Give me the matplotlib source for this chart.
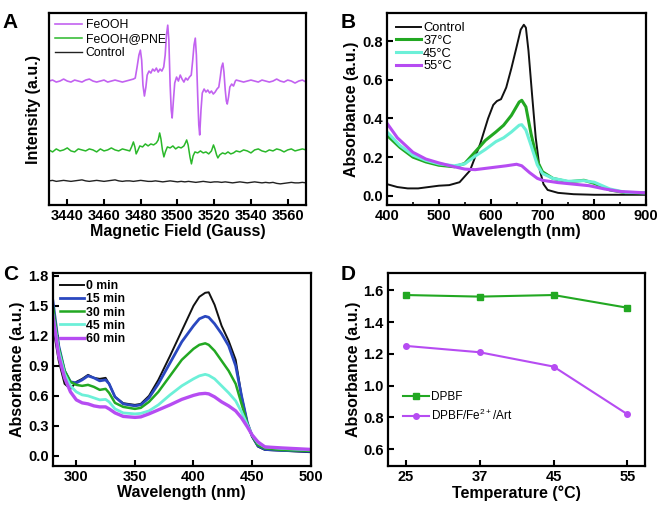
import numpy as np
import matplotlib
matplotlib.use("Agg")
import matplotlib.pyplot as plt

plt.rcParams['font.family'] = ['Liberation Sans', 'DejaVu Sans']
plt.rcParams['font.weight'] = 'bold'

# ---- panel A: EPR spectra (x in Gauss, y arbitrary) ----
feooh_x = [3430, 3432, 3434, 3436, 3438, 3440, 3442, 3444, 3446, 3448, 3450, 3452,
           3454, 3456, 3458, 3460, 3462, 3464, 3466, 3468, 3470, 3472, 3474, 3476,
           3477, 3478, 3479, 3479.8, 3480.5, 3481.2, 3482, 3482.8, 3483.5, 3484.5,
           3485.5, 3486.5, 3487.5, 3488.5, 3489.5, 3490.5, 3491.5, 3492.5, 3493.3,
           3494, 3494.7, 3495.3, 3496, 3496.6, 3497.1, 3497.8, 3498.5, 3499.5, 3500.5,
           3501.5, 3502.5, 3503.5, 3504.5, 3505.5, 3506.5, 3507.5, 3508.3, 3509,
           3509.7, 3510.3, 3511, 3511.6, 3512.1, 3512.8, 3513.5, 3514.5, 3515.5,
           3516.5, 3517.5, 3518.5, 3519.5, 3520.5, 3521.5, 3522.5, 3523.3, 3524,
           3524.7, 3525.3, 3526, 3526.6, 3527.1, 3527.8, 3528.5, 3529.5, 3530.5,
           3531.5, 3532, 3534, 3536, 3538, 3540, 3542, 3544, 3546, 3548, 3550, 3552,
           3554, 3556, 3558, 3560, 3562, 3564, 3566, 3568, 3570]
feooh_y = [124, 125, 123, 124, 126, 124, 123, 125, 124, 123, 125, 126,
           124, 123, 124, 125, 123, 124, 125, 124, 123, 124, 125, 126,
           127, 138, 150, 155, 145, 120, 109, 118, 130, 134,
           132, 136, 134, 137, 133, 136, 134, 138, 150,
           170, 180, 165, 120, 95, 87, 105, 122, 128, 124,
           130, 126, 123, 127, 125, 128, 130, 145, 160,
           167, 150, 110, 80, 70, 95, 112, 116, 113,
           115, 112, 114, 111, 113, 116, 118, 128, 138,
           142, 133, 115, 104, 101, 108, 118, 121, 119,
           124, 125, 124, 123, 124, 125, 124, 123, 125, 124, 123, 124,
           126, 124, 123, 125, 124, 122, 124, 125, 123]

pne_x = [3430, 3432, 3434, 3436, 3438, 3440, 3442, 3444, 3446, 3448, 3450, 3452,
         3454, 3456, 3458, 3460, 3462, 3464, 3466, 3468, 3470, 3472, 3474,
         3475, 3476, 3476.8, 3477.5, 3478.3, 3479.5, 3481, 3482.5, 3484, 3485.5,
         3487, 3488.5, 3489.5, 3490.3, 3491, 3491.8, 3492.6, 3493.4, 3494.5, 3496,
         3497.5, 3499, 3500.5, 3502, 3503.5, 3504.3, 3505, 3505.8, 3506.8, 3507.6,
         3508.5, 3509.5, 3511, 3512.5, 3514, 3515.5, 3517, 3518.5, 3519.6, 3520.4,
         3521.3, 3522, 3523, 3524.5, 3526, 3527.5, 3529, 3530.5, 3532,
         3534, 3536, 3538, 3540, 3542, 3544, 3546, 3548, 3550, 3552, 3554, 3556,
         3558, 3560, 3562, 3564, 3566, 3568, 3570]
pne_y = [55, 53, 56, 54, 55, 57, 54, 53, 56, 55, 54, 56,
         55, 53, 56, 54, 55, 57, 55, 54, 56, 55, 54,
         58, 63, 58, 51, 54, 59, 58, 61, 59, 61,
         60, 62, 65, 72, 66, 55, 48, 53, 58, 57,
         59, 56, 58, 57, 59, 62, 65, 60, 48, 41,
         49, 53, 52, 54, 52, 53, 51, 54, 60, 56,
         50, 47, 50, 52, 51, 53, 51, 52, 54,
         53, 55, 54, 52, 55, 56, 54, 53, 55, 54, 56, 55,
         53, 55, 56, 54, 55, 56, 55]

control_a_y = [24, 24.5, 23.5, 24, 24.5, 24, 23.5, 24, 24.5, 25, 24, 23.5, 24, 24.5,
               24, 23.5, 24, 24.5, 25, 24, 23.5, 24, 24, 23.5, 24, 24.5, 24, 23.5,
               23.5, 24, 23.5, 23, 23.5, 24, 23.5, 23, 23.5, 23, 23.5, 23, 22.5, 23,
               23.5, 23, 22.5, 23, 23, 22.5, 23, 22.5, 22, 22.5, 23, 22.5, 22, 22.5,
               23, 22.5, 22, 22.5, 22, 22.5, 21.5, 21, 21.5, 22, 22.5, 22, 22, 22.5, 22]
control_a_x = np.linspace(3430, 3570, len(control_a_y))

# ---- panel B: absorbance vs wavelength ----
ctrl_b_x = [400, 420, 440, 460, 480, 500, 520, 540, 560, 580, 595, 605, 612, 620, 630,
            640, 650, 658, 664, 668, 673, 680, 687, 695, 702, 710, 730, 760, 800, 850, 900]
ctrl_b_y = [0.06, 0.045, 0.038, 0.038, 0.045, 0.052, 0.055, 0.07, 0.13, 0.27, 0.40, 0.47,
            0.49, 0.50, 0.56, 0.66, 0.77, 0.86, 0.885, 0.87, 0.75, 0.52, 0.30, 0.13, 0.06,
            0.03, 0.015, 0.008, 0.005, 0.005, 0.005]
t_b_x = [400, 425, 450, 475, 500, 530, 550, 570, 590, 610, 625, 640, 655, 660, 668, 678,
         690, 700, 720, 750, 780, 800, 830, 860, 900]
t37_y = [0.313, 0.25, 0.20, 0.175, 0.158, 0.15, 0.167, 0.227, 0.287, 0.33, 0.365, 0.416,
         0.485, 0.494, 0.46, 0.32, 0.18, 0.124, 0.09, 0.072, 0.08, 0.064, 0.03, 0.016, 0.015]
t45_y = [0.33, 0.26, 0.21, 0.183, 0.165, 0.155, 0.165, 0.205, 0.24, 0.28, 0.30, 0.33,
         0.365, 0.368, 0.34, 0.26, 0.16, 0.115, 0.09, 0.075, 0.078, 0.07, 0.035, 0.018, 0.015]
t55_x = [400, 420, 450, 475, 500, 530, 550, 570, 600, 630, 650, 660, 675, 690, 700, 730,
         760, 790, 820, 850, 900]
t55_y = [0.375, 0.30, 0.225, 0.19, 0.17, 0.15, 0.138, 0.135, 0.145, 0.155, 0.163, 0.155,
         0.12, 0.09, 0.08, 0.068, 0.06, 0.052, 0.035, 0.022, 0.015]

# ---- panel C: absorbance vs wavelength over time ----
c_x = [280, 285, 290, 295, 300, 305, 310, 315, 320, 325, 328, 333, 340, 350, 355, 362,
       370, 380, 390, 400, 405, 410, 413, 418, 424, 430, 436, 441, 446, 450, 455, 461,
       475, 500]
m0_y = [1.30, 0.95, 0.72, 0.67, 0.74, 0.77, 0.81, 0.78, 0.77, 0.78, 0.72, 0.59, 0.527,
        0.51, 0.52, 0.60, 0.76, 1.00, 1.25, 1.50, 1.59, 1.63, 1.635, 1.51, 1.30, 1.15,
        0.96, 0.60, 0.33, 0.19, 0.093, 0.06, 0.053, 0.037]
m15_y = [1.55, 1.10, 0.85, 0.74, 0.73, 0.76, 0.80, 0.78, 0.75, 0.76, 0.72, 0.59, 0.52,
         0.50, 0.51, 0.58, 0.72, 0.93, 1.14, 1.30, 1.37, 1.395, 1.385, 1.32, 1.22, 1.10,
         0.90, 0.60, 0.33, 0.20, 0.10, 0.065, 0.055, 0.045]
m30_y = [1.50, 1.08, 0.85, 0.74, 0.71, 0.70, 0.71, 0.69, 0.66, 0.67, 0.63, 0.53, 0.49,
         0.47, 0.48, 0.54, 0.64, 0.80, 0.96, 1.07, 1.11, 1.125, 1.11, 1.05, 0.95, 0.85,
         0.72, 0.52, 0.32, 0.20, 0.11, 0.075, 0.06, 0.05]
m45_y = [1.42, 1.05, 0.82, 0.70, 0.64, 0.61, 0.60, 0.58, 0.56, 0.565, 0.54, 0.47, 0.43,
         0.42, 0.425, 0.45, 0.51, 0.61, 0.70, 0.77, 0.80, 0.815, 0.805, 0.77, 0.70, 0.63,
         0.55, 0.44, 0.31, 0.21, 0.13, 0.09, 0.075, 0.06]
m60_y = [1.40, 1.00, 0.78, 0.64, 0.56, 0.53, 0.52, 0.50, 0.49, 0.49, 0.47, 0.43, 0.395,
         0.385, 0.39, 0.42, 0.46, 0.51, 0.565, 0.605, 0.62, 0.625, 0.62, 0.59, 0.54, 0.50,
         0.45, 0.38, 0.29, 0.21, 0.14, 0.09, 0.08, 0.065]

# ---- panel D: absorbance vs temperature ----
temps = ['25', '37', '45', '55']
dpbf = [1.57, 1.56, 1.57, 1.49]
dpbf_fe_art = [1.25, 1.21, 1.12, 0.82]

purple = '#b64cf2'
green = '#22a822'
cyan = '#6cf0d8'
blue = '#2a48c0'
black = '#111111'

fig = plt.figure(figsize=(6.61, 5.07), dpi=100)
axA = fig.add_axes([0.074, 0.596, 0.389, 0.378])
axB = fig.add_axes([0.5855, 0.596, 0.392, 0.378])
axC = fig.add_axes([0.080, 0.081, 0.390, 0.381])
axD = fig.add_axes([0.587, 0.081, 0.389, 0.381])


def style(ax):
    for s in ax.spines.values():
        s.set_linewidth(1.6)
    ax.tick_params(direction='in', width=1.5, length=4, labelsize=10.5, pad=3)
    ax.tick_params(which='minor', direction='in', width=1.2, length=2)
    for lab in ax.get_xticklabels() + ax.get_yticklabels():
        lab.set_fontweight('bold')


def plain_legend(ax, **kw):
    leg = ax.legend(frameon=False, **kw)
    for t in leg.get_texts():
        t.set_fontweight('normal')
    return leg


# A
axA.plot(feooh_x, feooh_y, color='#c262f0', lw=1.2, label='FeOOH')
axA.plot(pne_x, pne_y, color='#2ab82a', lw=1.1, label='FeOOH@PNE')
axA.plot(control_a_x, control_a_y, color='#222222', lw=1.0, label='Control')
axA.set_xlim(3430, 3570)
axA.set_ylim(0, 192)
axA.set_xticks(range(3440, 3561, 20))
axA.set_yticks([])
axA.set_xlabel('Magnetic Field (Gauss)', fontsize=11.5, fontweight='bold', labelpad=1)
axA.set_ylabel('Intensity (a.u.)', fontsize=11.5, fontweight='bold', labelpad=6)
style(axA)
plain_legend(axA, loc='upper left', fontsize=8.8, handlelength=2.2,
             borderaxespad=0.1, labelspacing=0.15, handletextpad=0.3)

# B
axB.plot(ctrl_b_x, ctrl_b_y, color=black, lw=1.4, label='Control')
axB.plot(t_b_x, t37_y, color=green, lw=2.2, label='37°C')
axB.plot(t_b_x, t45_y, color=cyan, lw=2.2, label='45°C')
axB.plot(t55_x, t55_y, color=purple, lw=2.2, label='55°C')
axB.set_xlim(400, 900)
axB.set_ylim(-0.047, 0.945)
axB.set_xticks(range(400, 901, 100))
axB.set_xticks(range(450, 900, 100), minor=True)
axB.set_yticks([0.0, 0.2, 0.4, 0.6, 0.8])
axB.yaxis.set_major_formatter(matplotlib.ticker.FormatStrFormatter('%.1f'))
axB.set_xlabel('Wavelength (nm)', fontsize=11.5, fontweight='bold', labelpad=1)
axB.set_ylabel('Absorbance (a.u.)', fontsize=11.5, fontweight='bold', labelpad=2)
style(axB)
plain_legend(axB, loc='upper left', fontsize=9.3, handlelength=1.9,
             borderaxespad=0.3, labelspacing=0.05, handletextpad=0.2)

# C
axC.plot(c_x, m0_y, color=black, lw=1.4, label='0 min')
axC.plot(c_x, m15_y, color=blue, lw=2.0, label='15 min')
axC.plot(c_x, m30_y, color=green, lw=1.8, label='30 min')
axC.plot(c_x, m45_y, color=cyan, lw=2.0, label='45 min')
axC.plot(c_x, m60_y, color=purple, lw=2.4, label='60 min')
axC.set_xlim(280, 500)
axC.set_ylim(-0.1, 1.83)
axC.set_xticks(range(300, 501, 50))
axC.set_yticks([0.0, 0.3, 0.6, 0.9, 1.2, 1.5, 1.8])
axC.yaxis.set_major_formatter(matplotlib.ticker.FormatStrFormatter('%.1f'))
axC.set_xlabel('Wavelength (nm)', fontsize=11.5, fontweight='bold', labelpad=1)
axC.set_ylabel('Absorbance (a.u.)', fontsize=11.5, fontweight='bold', labelpad=2)
style(axC)
axC.legend(loc='upper left', frameon=False, handlelength=1.95,
           borderaxespad=0.2, labelspacing=0.1, handletextpad=0.15,
           prop={'weight': 'bold', 'size': 8.8})

# D
xi = np.arange(len(temps))
axD.plot(xi, dpbf, color=green, lw=1.5, marker='s', ms=4, label='DPBF')
axD.plot(xi, dpbf_fe_art, color=purple, lw=1.5, marker='o', ms=4,
         label='DPBF/Fe$\\mathregular{^{2+}}$/Art')
axD.set_xlim(-0.24, 3.24)
axD.set_ylim(0.495, 1.71)
axD.set_xticks(xi)
axD.set_xticklabels(temps)
axD.set_yticks([0.6, 0.8, 1.0, 1.2, 1.4, 1.6])
axD.yaxis.set_major_formatter(matplotlib.ticker.FormatStrFormatter('%.1f'))
axD.set_xlabel('Temperature (°C)', fontsize=11.5, fontweight='bold', labelpad=1)
axD.set_ylabel('Absorbance (a.u.)', fontsize=11.5, fontweight='bold', labelpad=2)
style(axD)
plain_legend(axD, loc='center left', bbox_to_anchor=(0.03, 0.305), fontsize=8.5,
             handlelength=2.2, labelspacing=0.45, handletextpad=0.2, borderaxespad=0.2)

# panel letters
fig.text(0.004, 0.975, 'A', fontsize=15, fontweight='bold', va='top')
fig.text(0.515, 0.975, 'B', fontsize=15, fontweight='bold', va='top')
fig.text(0.004, 0.478, 'C', fontsize=15, fontweight='bold', va='top')
fig.text(0.515, 0.478, 'D', fontsize=15, fontweight='bold', va='top')

fig.savefig('out.png', dpi=100)
